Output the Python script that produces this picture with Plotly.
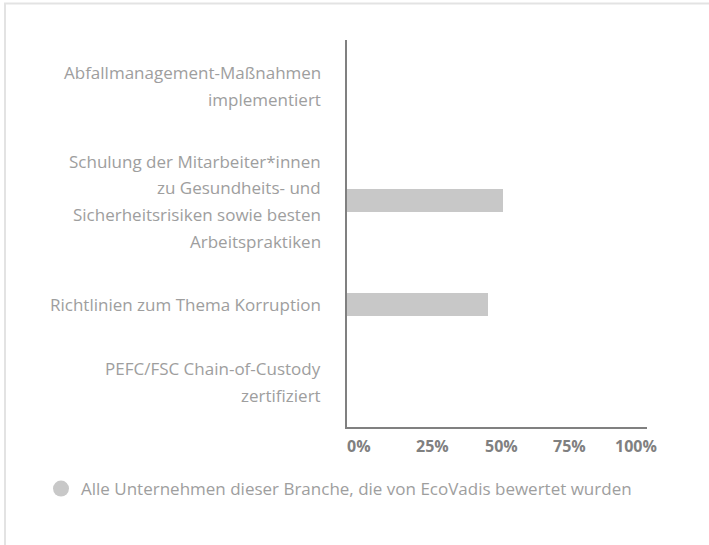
import plotly.graph_objects as go

# ---- data ----
categories = [
    "Abfallmanagement-Maßnahmen implementiert",
    "Schulung der Mitarbeiter*innen zu Gesundheits- und Sicherheitsrisiken sowie besten Arbeitspraktiken",
    "Richtlinien zum Thema Korruption",
    "PEFC/FSC Chain-of-Custody zertifiziert",
]
category_lines = [
    ["Abfallmanagement-Maßnahmen", "implementiert"],
    ["Schulung der Mitarbeiter*innen", "zu Gesundheits- und", "Sicherheitsrisiken sowie besten", "Arbeitspraktiken"],
    ["Richtlinien zum Thema Korruption"],
    ["PEFC/FSC Chain-of-Custody", "zertifiziert"],
]
values = [0, 52, 47, 0]
tick_values = [0, 25, 50, 75, 100]
tick_labels = ["0%", "25%", "50%", "75%", "100%"]
series_name = "Alle Unternehmen dieser Branche, die von EcoVadis bewertet wurden"

# ---- layout constants (pixels) ----
W, H = 709, 545
PL, PR, PT, PB = 347, 647, 40, 427
pw, ph = PR - PL, PB - PT


def px_x(p):
    return (p - PL) / pw


def px_y(p):
    return (PB - p) / ph


BAR_COLOR = "#c8c8c8"
AXIS_COLOR = "#808080"
LABEL_COLOR = "#9e9e9e"
FONT = "Open Sans"

fig = go.Figure()
fig.add_trace(go.Bar(
    y=categories, x=values, orientation="h",
    marker=dict(color=BAR_COLOR, line=dict(width=0)),
    width=0.22, showlegend=False, hoverinfo="skip",
))
fig.add_trace(go.Scatter(
    x=[None], y=[None], mode="markers", name=series_name,
    marker=dict(color=BAR_COLOR, size=16, symbol="circle"),
))

annotations = []
# category labels
label_nudge = [10, -1, 0, 26]
line_gap = 26.7
for cat, lines, nudge in zip(categories, category_lines, label_nudge):
    n = len(lines)
    for i, ln in enumerate(lines):
        off = ((n - 1) / 2 - i) * line_gap + nudge
        annotations.append(dict(
            text=ln, xref="paper", x=px_x(323), xanchor="right",
            yref="y", y=cat, yanchor="middle", yshift=off,
            showarrow=False, font=dict(family=FONT, size=17, color=LABEL_COLOR),
        ))
# x tick labels
tick_shift = [12, 10, 4, -3, -11.5]
for v, t, s in zip(tick_values, tick_labels, tick_shift):
    annotations.append(dict(
        text="<b>%s</b>" % t, xref="x", x=v, xanchor="center", xshift=s,
        yref="paper", y=0, yanchor="middle", yshift=-19,
        showarrow=False, font=dict(family=FONT, size=16, color=AXIS_COLOR),
    ))

frame = dict(color="#e3e3e3", width=2)
shapes = [
    dict(type="line", xref="paper", yref="paper",
         x0=px_x(4), x1=px_x(W + 5), y0=px_y(3.5), y1=px_y(3.5), line=frame, layer="below"),
    dict(type="line", xref="paper", yref="paper",
         x0=px_x(5), x1=px_x(5), y0=px_y(3), y1=px_y(H + 5), line=frame, layer="below"),
]

fig.update_layout(
    width=W, height=H,
    margin=dict(l=PL, r=W - PR, t=PT, b=H - PB, pad=0),
    paper_bgcolor="white", plot_bgcolor="white",
    font=dict(family=FONT, color=LABEL_COLOR),
    bargap=0,
    xaxis=dict(range=[0, 100], showgrid=False, zeroline=False, showline=True,
               linecolor=AXIS_COLOR, linewidth=2, showticklabels=False, ticks="",
               fixedrange=True),
    yaxis=dict(type="category", categoryorder="array", categoryarray=categories,
               range=[3.18, -0.54], showgrid=False, zeroline=False, showline=True,
               linecolor=AXIS_COLOR, linewidth=2, showticklabels=False, ticks="",
               fixedrange=True),
    showlegend=True,
    legend=dict(orientation="h", x=px_x(41), xanchor="left", y=px_y(489),
                yanchor="middle", font=dict(family=FONT, size=17, color=LABEL_COLOR),
                bgcolor="rgba(0,0,0,0)", itemclick=False, itemdoubleclick=False),
    annotations=annotations,
    shapes=shapes,
)

fig.write_html("out.html", config={"displayModeBar": False},
               post_script="document.body.style.margin='0';document.body.style.overflow='hidden';")
